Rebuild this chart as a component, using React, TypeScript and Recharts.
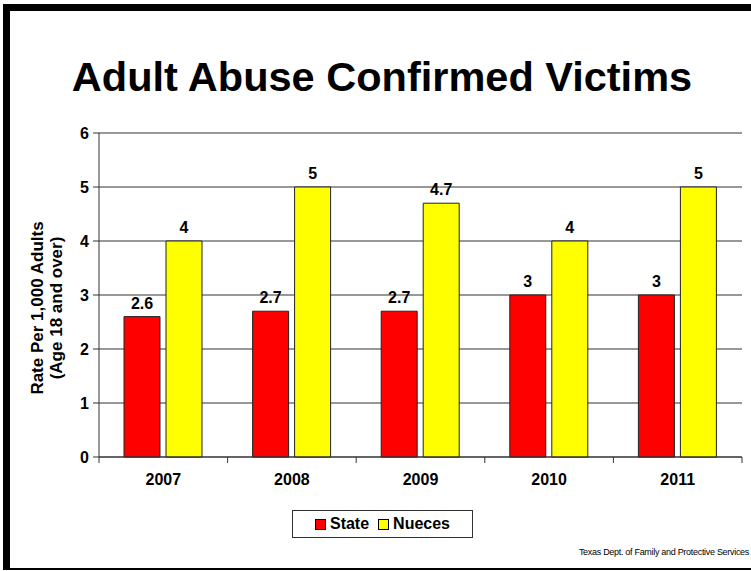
import { BarChart, Bar, XAxis, YAxis, CartesianGrid, LabelList } from "recharts";

const years = ["2007", "2008", "2009", "2010", "2011"];
const stateRates = [2.6, 2.7, 2.7, 3, 3];
const nuecesRates = [4, 5, 4.7, 4, 5];
const yTicks = [0, 1, 2, 3, 4, 5, 6];
const boundaryTicks = [0, 1, 2, 3, 4, 5];

const series = [
  { key: "state", name: "State", color: "#ff0000" },
  { key: "nueces", name: "Nueces", color: "#ffff00" },
];

const data = years.map((year, i) => ({
  year,
  idx: i + 0.5,
  state: stateRates[i],
  nueces: nuecesRates[i],
}));

const font = "'Liberation Sans', Arial, sans-serif";

function YLabel(props: any) {
  const vb = props.viewBox || {};
  const cy = vb.y + vb.height / 2 + 13;
  return (
    <g fontFamily={font} fontWeight="bold" fontSize={17} fill="#000">
      <text x={37} y={cy} transform={`rotate(-90 37 ${cy})`} textAnchor="middle" dominantBaseline="central">
        Rate Per 1,000 Adults
      </text>
      <text x={56} y={cy} transform={`rotate(-90 56 ${cy})`} textAnchor="middle" dominantBaseline="central">
        (Age 18 and over)
      </text>
    </g>
  );
}

export default function App() {
  return (
    <div style={{ position: "absolute", left: 0, top: 0, width: 751, height: 571, background: "#fff", overflow: "hidden" }}>
      <div
        style={{
          position: "absolute",
          left: 3,
          top: 4,
          width: 800,
          height: 566,
          borderLeft: "7px solid #000",
          borderTop: "7px solid #000",
          borderBottom: "2px solid #000",
          boxSizing: "border-box",
        }}
      />
      <div
        style={{
          position: "absolute",
          left: 0,
          width: 764,
          top: 52,
          textAlign: "center",
          fontFamily: font,
          fontWeight: "bold",
          fontSize: 41.5,
          lineHeight: "50px",
          color: "#000",
        }}
      >
        Adult Abuse Confirmed Victims
      </div>
      <div style={{ position: "absolute", left: 0, top: 0 }}>
        <BarChart
          width={751}
          height={571}
          data={data}
          margin={{ top: 133, right: 9, bottom: 83, left: 39 }}
          barSize={36}
          barGap={6}
        >
          <CartesianGrid xAxisId="cat" yAxisId="left" vertical={false} stroke="#333" strokeWidth={1.2} />
          <XAxis
            xAxisId={0}
            dataKey="idx"
            type="number"
            domain={[0, 5]}
            ticks={boundaryTicks}
            tickFormatter={() => ""}
            tickSize={6}
            stroke="#333"
            height={1}
          />
          <XAxis
            xAxisId="cat"
            dataKey="year"
            axisLine={false}
            tickLine={false}
            tickMargin={10}
            height={30}
            tick={{ fill: "#000", fontFamily: font, fontWeight: "bold", fontSize: 16 }}
          />
          <YAxis
            yAxisId="left"
            domain={[0, 6]}
            ticks={yTicks}
            width={60}
            tickSize={6}
            tickMargin={4}
            stroke="#333"
            tick={{ fill: "#000", fontFamily: font, fontWeight: "bold", fontSize: 16 }}
            label={{ content: YLabel }}
          />
          <YAxis
            yAxisId="right"
            orientation="right"
            domain={[0, 6]}
            width={0}
            tick={false}
            tickLine={false}
            stroke="#555"
          />
          {series.map((s) => (
            <Bar
              key={s.key}
              xAxisId="cat"
              yAxisId="left"
              dataKey={s.key}
              name={s.name}
              fill={s.color}
              stroke="#222"
              isAnimationActive={false}
            >
              <LabelList dataKey={s.key} position="top" offset={8} fill="#000" fontFamily={font} fontWeight="bold" fontSize={16} />
            </Bar>
          ))}
        </BarChart>
      </div>
      <div
        style={{
          position: "absolute",
          left: 292,
          top: 510,
          width: 181,
          height: 28,
          border: "1.5px solid #333",
          display: "flex",
          alignItems: "center",
          justifyContent: "center",
          gap: 9,
          fontFamily: font,
          fontWeight: "bold",
          fontSize: 16,
          boxSizing: "border-box",
          background: "#fff",
        }}
      >
        {series.map((s) => (
          <span key={s.key} style={{ display: "flex", alignItems: "center", gap: 4 }}>
            <span
              style={{
                width: 9,
                height: 9,
                background: s.color,
                border: "1px solid #000",
                display: "inline-block",
              }}
            />
            {s.name}
          </span>
        ))}
      </div>
      <div
        style={{
          position: "absolute",
          right: 2,
          top: 547,
          fontFamily: font,
          fontSize: 9,
          letterSpacing: -0.3,
          color: "#000",
        }}
      >
        Texas Dept. of Family and Protective Services
      </div>
    </div>
  );
}
